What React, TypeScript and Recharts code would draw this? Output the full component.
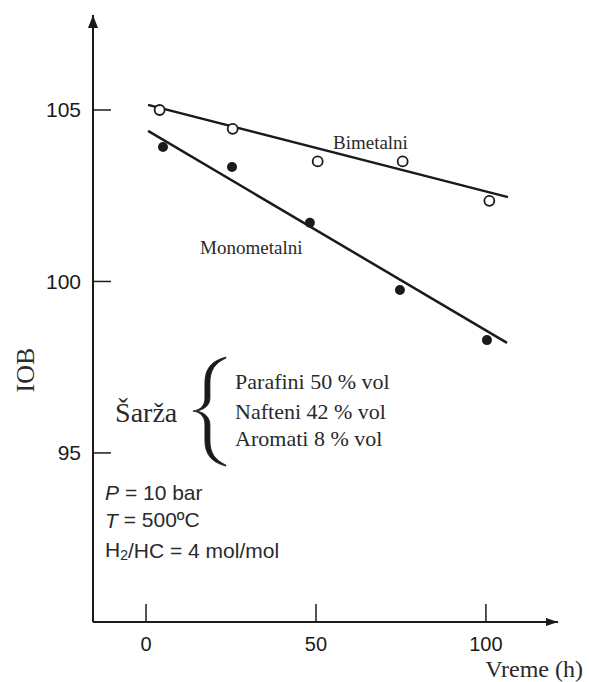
import React from 'react'
import { ComposedChart, Line, Scatter, XAxis, YAxis, ReferenceDot } from 'recharts'

// izmerene tacke (IOB u zavisnosti od vremena)
const bimetalX = [4, 25.5, 50.5, 75.5, 101]
const bimetalY = [105.0, 104.45, 103.5, 103.5, 102.35]
const monoX = [5, 25.3, 48.2, 74.7, 100.3]
const monoY = [103.92, 103.34, 101.71, 99.75, 98.29]

// linije trenda
const bimetalFitX = [0.6, 106.5]
const bimetalFitY = [105.15, 102.46]
const monoFitX = [0.6, 106.2]
const monoFitY = [104.39, 98.21]

const xTicks = [0, 50, 100]
const yTicks = [95, 100, 105]
const X_DOMAIN: [number, number] = [-15.6, 121.2]
const Y_DOMAIN: [number, number] = [90.07, 107.77]

const feedLabels = ['Parafini 50 % vol', 'Nafteni 42 % vol', 'Aromati 8 % vol']
const feedY = [97.07, 96.2, 95.41]

const zip = (xs: number[], ys: number[]) => xs.map((x, i) => ({ x, y: ys[i] }))
const bimetalPts = zip(bimetalX, bimetalY)
const monoPts = zip(monoX, monoY)
const bimetalFit = zip(bimetalFitX, bimetalFitY)
const monoFit = zip(monoFitX, monoFitY)

const INK = '#1a1a1a'
const SERIF = '"Liberation Serif", "Times New Roman", serif'
const SANS = '"Liberation Sans", Arial, sans-serif'

function XTick(props: any) {
  const { x, y, payload } = props
  return (
    <g>
      <line x1={x} x2={x} y1={y} y2={y - 18} stroke={INK} strokeWidth={1.5} />
      <text x={x} y={y + 22} textAnchor="middle" dominantBaseline="central" fontFamily={SANS} fontSize={20} fill={INK}>
        {payload.value}
      </text>
    </g>
  )
}

function YTick(props: any) {
  const { x, y, payload } = props
  return (
    <g>
      <line x1={x} x2={x + 18} y1={y} y2={y} stroke={INK} strokeWidth={1.5} />
      <text x={x - 12} y={y} textAnchor="end" dominantBaseline="central" fontFamily={SANS} fontSize={21} fill={INK}>
        {payload.value}
      </text>
    </g>
  )
}

const openCircle = (p: any) => (
  <circle cx={p.cx} cy={p.cy} r={5} fill="#fff" stroke={INK} strokeWidth={1.8} />
)
const filledCircle = (p: any) => <circle cx={p.cx} cy={p.cy} r={5} fill={INK} />

const textAt = (label: React.ReactNode, size: number, family: string, anchor: 'start' | 'end' | 'middle' = 'start') =>
  (p: any) => (
    <text x={p.cx} y={p.cy} textAnchor={anchor} dominantBaseline="central" fontFamily={family} fontSize={size} fill="#2a2a2a">
      {label}
    </text>
  )

// viticasta zagrada, deblja u sredini
const braceShape = (p: any) => {
  const { cx, cy } = p
  const outer = `M${cx + 33},${cy - 54} C${cx + 18},${cy - 50} ${cx + 12},${cy - 42} ${cx + 12},${cy - 28} L${cx + 12},${cy - 13} C${cx + 12},${cy - 6} ${cx + 8},${cy - 1} ${cx},${cy} C${cx + 8},${cy + 1} ${cx + 12},${cy + 6} ${cx + 12},${cy + 14} L${cx + 12},${cy + 29} C${cx + 12},${cy + 43} ${cx + 18},${cy + 51} ${cx + 33},${cy + 55}`
  const inner = `L${cx + 33},${cy + 54} C${cx + 22},${cy + 49} ${cx + 17},${cy + 42} ${cx + 17},${cy + 29} L${cx + 17},${cy + 14} C${cx + 17},${cy + 7} ${cx + 13},${cy + 2} ${cx + 4},${cy} C${cx + 13},${cy - 2} ${cx + 17},${cy - 7} ${cx + 17},${cy - 13} L${cx + 17},${cy - 28} C${cx + 17},${cy - 41} ${cx + 22},${cy - 48} ${cx + 33},${cy - 53} Z`
  return <path d={outer + ' ' + inner} fill={INK} stroke={INK} strokeWidth={0.8} strokeLinejoin="round" />
}

const xArrow = (p: any) => (
  <path d={`M${p.cx},${p.cy} L${p.cx - 12},${p.cy - 4} L${p.cx - 12},${p.cy + 4} Z`} fill={INK} />
)
const yArrow = (p: any) => (
  <path d={`M${p.cx},${p.cy} L${p.cx - 5},${p.cy + 13} L${p.cx + 5},${p.cy + 13} Z`} fill={INK} />
)

export default function App() {
  return (
    <div style={{ position: 'absolute', left: 0, top: 0, width: 589, height: 682, background: '#fff' }}>
      <ComposedChart width={589} height={682} margin={{ top: 15, right: 31, bottom: 0, left: 0 }}>
        <XAxis
          type="number"
          dataKey="x"
          domain={X_DOMAIN}
          ticks={xTicks}
          interval={0}
          allowDataOverflow
          height={60}
          tickSize={0}
          tickMargin={0}
          tickLine={false}
          tick={<XTick />}
          axisLine={{ stroke: INK, strokeWidth: 2 }}
          label={{
            content: (lp: any) => {
              const vb = lp.viewBox
              return (
                <text x={vb.x + vb.width + 25} y={vb.y + 47} textAnchor="end" dominantBaseline="central" fontFamily={SERIF} fontSize={24} fill="#2a2a2a">
                  Vreme (h)
                </text>
              )
            },
          }}
        />
        <YAxis
          type="number"
          dataKey="y"
          domain={Y_DOMAIN}
          ticks={yTicks}
          interval={0}
          allowDataOverflow
          width={93}
          tickSize={0}
          tickMargin={0}
          tickLine={false}
          tick={<YTick />}
          axisLine={{ stroke: INK, strokeWidth: 2 }}
          label={{
            content: () => (
              <text x={25} y={370} transform="rotate(-90 25 370)" textAnchor="middle" dominantBaseline="central" fontFamily={SERIF} fontSize={26} fill="#2a2a2a">
                IOB
              </text>
            ),
          }}
        />

        <Line data={bimetalFit} dataKey="y" stroke={INK} strokeWidth={2.5} dot={false} isAnimationActive={false} />
        <Line data={monoFit} dataKey="y" stroke={INK} strokeWidth={2.5} dot={false} isAnimationActive={false} />
        <Scatter data={bimetalPts} dataKey="y" shape={openCircle} isAnimationActive={false} />
        <Scatter data={monoPts} dataKey="y" shape={filledCircle} isAnimationActive={false} />

        <ReferenceDot x={X_DOMAIN[1]} y={Y_DOMAIN[0]} ifOverflow="visible" shape={xArrow} />
        <ReferenceDot x={X_DOMAIN[0]} y={Y_DOMAIN[1]} ifOverflow="visible" shape={yArrow} />

        <ReferenceDot x={55} y={104.04} shape={textAt('Bimetalni', 19, SERIF)} />
        <ReferenceDot x={15.9} y={101.0} shape={textAt('Monometalni', 19, SERIF)} />
        <ReferenceDot x={-9.1} y={96.17} shape={textAt('Šarža', 28, SERIF)} />
        <ReferenceDot x={13.8} y={96.22} shape={braceShape} />
        {feedLabels.map((t, i) => (
          <ReferenceDot key={t} x={26.2} y={feedY[i]} shape={textAt(t, 22, SERIF)} />
        ))}
        <ReferenceDot
          x={-12.06}
          y={93.86}
          shape={textAt(
            <>
              <tspan fontStyle="italic">P</tspan> = 10 bar
            </>,
            21,
            SANS
          )}
        />
        <ReferenceDot
          x={-12.06}
          y={93.05}
          shape={textAt(
            <>
              <tspan fontStyle="italic">T</tspan> = 500ºC
            </>,
            21,
            SANS
          )}
        />
        <ReferenceDot
          x={-12.06}
          y={92.17}
          shape={textAt(
            <>
              H<tspan fontSize={14} dy={5}>2</tspan>
              <tspan dy={-5}>/HC = 4 mol/mol</tspan>
            </>,
            21,
            SANS
          )}
        />
      </ComposedChart>
    </div>
  )
}
